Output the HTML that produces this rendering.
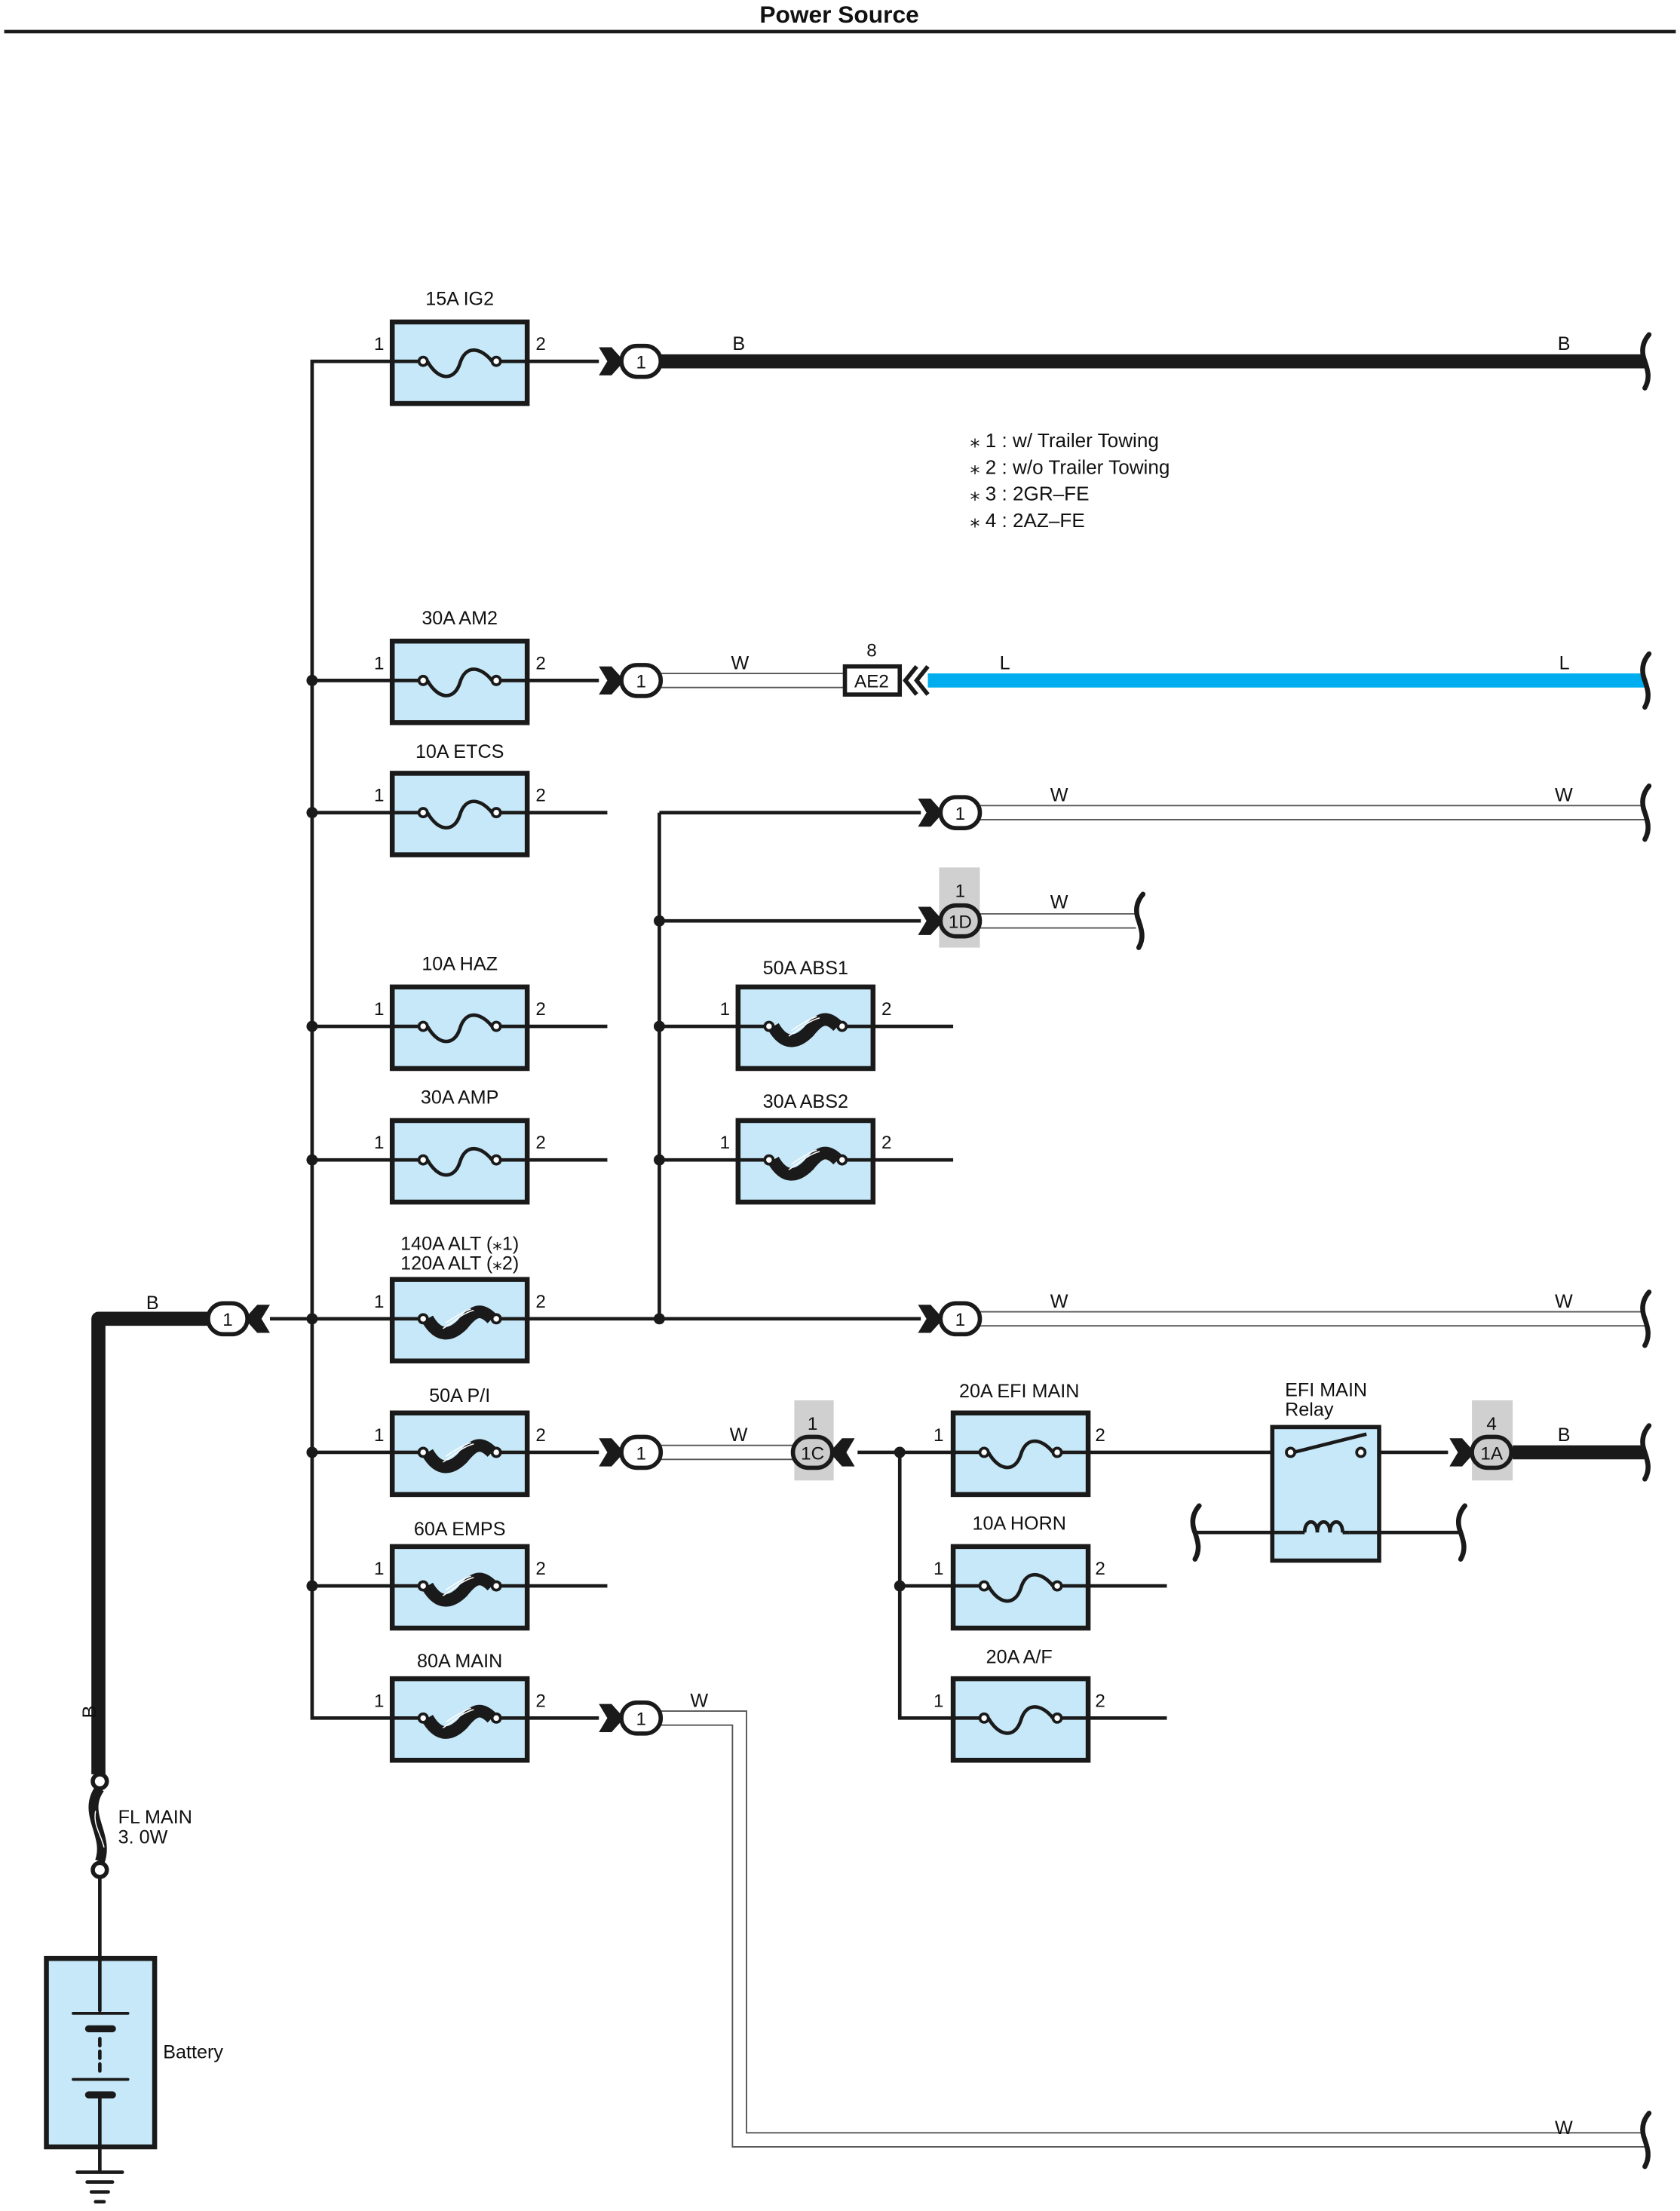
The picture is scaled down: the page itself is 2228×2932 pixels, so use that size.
<!DOCTYPE html>
<html><head><meta charset="utf-8"><style>
html,body{margin:0;padding:0;background:#fff}
svg{display:block}
text{font-family:"Liberation Sans",sans-serif;fill:#111}
</style></head><body>
<svg width="2228" height="2932" viewBox="0 0 1195 1572.6" preserveAspectRatio="none" xmlns="http://www.w3.org/2000/svg">
<defs>
<g id="fs">
<rect x="0" y="-28" width="96" height="58" fill="#c6e8f8" stroke="#1a1a1a" stroke-width="3.5"/>
<path d="M0 0H19M77 0H96" stroke="#1a1a1a" stroke-width="2.5"/>
<path d="M25 0C33 14 44 14 48 2C52 -12 63 -10 71 0" fill="none" stroke="#1a1a1a" stroke-width="2.5"/>
<circle cx="22" cy="0" r="3" fill="#fff" stroke="#1a1a1a" stroke-width="2"/>
<circle cx="74" cy="0" r="3" fill="#fff" stroke="#1a1a1a" stroke-width="2"/>
</g>
<g id="fl">
<rect x="0" y="-28" width="96" height="58" fill="#c6e8f8" stroke="#1a1a1a" stroke-width="3.5"/>
<path d="M0 0H19M77 0H96" stroke="#1a1a1a" stroke-width="2.5"/>
<path d="M25 0C33 14 42 12 50 4C58 -6 63 -8 71 0" fill="none" stroke="#1a1a1a" stroke-width="9"/>
<path d="M36 7C44 2 50 -4 58 -6M38 3C44 -1 50 -5 56 -7" fill="none" stroke="#fff" stroke-width="0.8"/>
<circle cx="22" cy="0" r="3" fill="#fff" stroke="#1a1a1a" stroke-width="2"/>
<circle cx="74" cy="0" r="3" fill="#fff" stroke="#1a1a1a" stroke-width="2"/>
</g>
<g id="cr">
<polygon points="-30,-10 -21,-10 -12,0 -21,10 -30,10 -24,0" fill="#1a1a1a"/>
<rect x="-14" y="-11" width="28" height="22" rx="11" fill="#fff" stroke="#1a1a1a" stroke-width="3"/>
</g>
<g id="crg">
<polygon points="-30,-10 -21,-10 -12,0 -21,10 -30,10 -24,0" fill="#1a1a1a"/>
<rect x="-14" y="-11" width="28" height="22" rx="11" fill="#ccc" stroke="#1a1a1a" stroke-width="3"/>
</g>
<path id="we" d="M2 -19C-4 -12 -3 -5 -1 0C1 6 3 12 -1 19" fill="none" stroke="#1a1a1a" stroke-width="3.5" stroke-linecap="round"/>
</defs>

<text x="597" y="16" font-size="17" font-weight="bold" text-anchor="middle">Power Source</text>
<line x1="3" y1="22.5" x2="1192" y2="22.5" stroke="#1a1a1a" stroke-width="2.5"/>

<g font-size="14">
<text x="690" y="318">⁎ 1 : w/ Trailer Towing</text>
<text x="690" y="337">⁎ 2 : w/o Trailer Towing</text>
<text x="690" y="356">⁎ 3 : 2GR–FE</text>
<text x="690" y="375">⁎ 4 : 2AZ–FE</text>
</g>

<g stroke="#1a1a1a" stroke-width="2.5" fill="none">
<path d="M279 257H222V1222H279"/>
<path d="M222 484H279M222 578H279M222 730H279M222 825H279M222 938H279M222 1033H279M222 1128H279"/>
<path d="M375 578H432M375 730H432M375 825H432M375 1128H432"/>
<path d="M375 257H426M375 484H426M375 1033H426M375 1222H426"/>
<path d="M192 938H279M375 938H655"/>
<path d="M469 578V938M469 578H655M469 655H655M469 730H525M621 730H678M469 825H525M621 825H678"/>
<path d="M610 1033H678M640 1033V1222H678M640 1128H678M773 1033H905M981 1033H1030M773 1128H830M773 1222H830"/>
<path d="M71 1336V1393M71 1527V1545"/>
</g>
<g fill="#1a1a1a">
<circle cx="222" cy="484" r="4"/><circle cx="222" cy="578" r="4"/><circle cx="222" cy="730" r="4"/><circle cx="222" cy="825" r="4"/><circle cx="222" cy="938" r="4"/><circle cx="222" cy="1033" r="4"/><circle cx="222" cy="1128" r="4"/>
<circle cx="469" cy="655" r="4"/><circle cx="469" cy="730" r="4"/><circle cx="469" cy="825" r="4"/><circle cx="469" cy="938" r="4"/>
<circle cx="640" cy="1033" r="4"/><circle cx="640" cy="1128" r="4"/>
</g>

<use href="#fs" x="279" y="257"/>
<use href="#fs" x="279" y="484"/>
<use href="#fs" x="279" y="578"/>
<use href="#fs" x="279" y="730"/>
<use href="#fs" x="279" y="825"/>
<use href="#fl" x="279" y="938"/>
<use href="#fl" x="279" y="1033"/>
<use href="#fl" x="279" y="1128"/>
<use href="#fl" x="279" y="1222"/>
<use href="#fl" x="525" y="730"/>
<use href="#fl" x="525" y="825"/>
<use href="#fs" x="678" y="1033"/>
<use href="#fs" x="678" y="1128"/>
<use href="#fs" x="678" y="1222"/>

<g font-size="13.5" text-anchor="middle">
<text x="327" y="217">15A IG2</text>
<text x="327" y="444">30A AM2</text>
<text x="327" y="539">10A ETCS</text>
<text x="327" y="690">10A HAZ</text>
<text x="327" y="785">30A AMP</text>
<text x="327" y="889">140A ALT (⁎1)</text>
<text x="327" y="903">120A ALT (⁎2)</text>
<text x="327" y="997">50A P/I</text>
<text x="327" y="1092">60A EMPS</text>
<text x="327" y="1186">80A MAIN</text>
<text x="573" y="693">50A ABS1</text>
<text x="573" y="788">30A ABS2</text>
<text x="725" y="994">20A EFI MAIN</text>
<text x="725" y="1088">10A HORN</text>
<text x="725" y="1183">20A A/F</text>
</g>
<g font-size="13">
<text x="266" y="249">1</text><text x="381" y="249">2</text>
<text x="266" y="476">1</text><text x="381" y="476">2</text>
<text x="266" y="570">1</text><text x="381" y="570">2</text>
<text x="266" y="722">1</text><text x="381" y="722">2</text>
<text x="266" y="817">1</text><text x="381" y="817">2</text>
<text x="266" y="930">1</text><text x="381" y="930">2</text>
<text x="266" y="1025">1</text><text x="381" y="1025">2</text>
<text x="266" y="1120">1</text><text x="381" y="1120">2</text>
<text x="266" y="1214">1</text><text x="381" y="1214">2</text>
<text x="512" y="722">1</text><text x="627" y="722">2</text>
<text x="512" y="817">1</text><text x="627" y="817">2</text>
<text x="664" y="1025">1</text><text x="779" y="1025">2</text>
<text x="664" y="1120">1</text><text x="779" y="1120">2</text>
<text x="664" y="1214">1</text><text x="779" y="1214">2</text>
</g>

<line x1="469" y1="257" x2="1170" y2="257" stroke="#1a1a1a" stroke-width="10"/>
<line x1="660" y1="484" x2="1170" y2="484" stroke="#00aeef" stroke-width="10"/>
<line x1="1075" y1="1033" x2="1170" y2="1033" stroke="#1a1a1a" stroke-width="10"/>
<path d="M160 938H70V1262" fill="none" stroke="#1a1a1a" stroke-width="10" stroke-linejoin="round"/>
<g fill="none" stroke="#555" stroke-width="1">
<path d="M469 479H600M469 489H600"/>
<path d="M697 573H1170M697 583H1170"/>
<path d="M697 650H808M697 660H808"/>
<path d="M697 933H1170M697 943H1170"/>
<path d="M469 1028H565M469 1038H565"/>
<path d="M469 1217H531V1517H1170M469 1227H521V1527H1170"/>
</g>
<use href="#we" x="1171" y="257"/>
<use href="#we" x="1171" y="484"/>
<use href="#we" x="1171" y="578"/>
<use href="#we" x="811" y="655"/>
<use href="#we" x="1171" y="938"/>
<use href="#we" x="1171" y="1033"/>
<use href="#we" x="1171" y="1522"/>

<g font-size="13.5">
<text x="521" y="249">B</text><text x="1108" y="249">B</text>
<text x="520" y="476">W</text>
<text x="711" y="476">L</text><text x="1109" y="476">L</text>
<text x="747" y="570">W</text><text x="1106" y="570">W</text>
<text x="747" y="646">W</text>
<text x="747" y="930">W</text><text x="1106" y="930">W</text>
<text x="519" y="1025">W</text>
<text x="1108" y="1025">B</text>
<text x="491" y="1214">W</text>
<text x="1106" y="1518">W</text>
<text x="104" y="931">B</text>
<text x="62" y="1228" transform="rotate(-90 62 1222)">B</text>
</g>

<use href="#cr" x="456" y="257"/>
<use href="#cr" x="456" y="484"/>
<use href="#cr" x="456" y="1033"/>
<use href="#cr" x="456" y="1222"/>
<use href="#cr" x="683" y="578"/>
<use href="#cr" x="683" y="938"/>
<rect x="668" y="617" width="29" height="57" fill="#d0d0d0"/>
<use href="#crg" x="683" y="655"/>
<g transform="translate(162 938) scale(-1 1)"><use href="#cr"/></g>
<rect x="565" y="996" width="28" height="57" fill="#d0d0d0"/>
<g transform="translate(578 1033) scale(-1 1)"><use href="#crg"/></g>
<rect x="1047" y="996" width="29" height="57" fill="#d0d0d0"/>
<use href="#crg" x="1061" y="1033"/>
<g font-size="13" text-anchor="middle">
<text x="456" y="262">1</text><text x="456" y="489">1</text><text x="456" y="1038">1</text><text x="456" y="1227">1</text>
<text x="683" y="583">1</text><text x="683" y="943">1</text><text x="162" y="943">1</text>
<text x="683" y="660">1D</text><text x="683" y="638">1</text>
<text x="578" y="1038">1C</text><text x="578" y="1017">1</text>
<text x="1061" y="1038">1A</text><text x="1061" y="1017">4</text>
</g>

<rect x="601" y="474" width="39" height="20" fill="#fff" stroke="#1a1a1a" stroke-width="3"/>
<text x="620" y="489" font-size="13" text-anchor="middle">AE2</text>
<text x="620" y="467" font-size="13" text-anchor="middle">8</text>
<path d="M652 474L644 484L652 494M660 474L652 484L660 494" fill="none" stroke="#1a1a1a" stroke-width="3"/>

<rect x="905" y="1015" width="76" height="95" fill="#c6e8f8" stroke="#1a1a1a" stroke-width="3"/>
<path d="M920 1033L972 1020" stroke="#1a1a1a" stroke-width="2.5"/>
<circle cx="918" cy="1033" r="3" fill="#fff" stroke="#1a1a1a" stroke-width="2"/>
<circle cx="968" cy="1033" r="3" fill="#fff" stroke="#1a1a1a" stroke-width="2"/>
<path d="M850 1090H928M960 1090H1038M928 1090c0 -10 9 -10 9 0c0 -10 9 -10 9 0c0 -10 9 -10 9 0v0" fill="none" stroke="#1a1a1a" stroke-width="2.5"/>
<path d="M955 1090H960" stroke="#1a1a1a" stroke-width="2.5"/>
<use href="#we" x="851" y="1090"/>
<use href="#we" x="1040" y="1090"/>
<text x="914" y="993" font-size="13.5">EFI MAIN</text>
<text x="914" y="1007" font-size="13.5">Relay</text>

<circle cx="71" cy="1267" r="5" fill="#fff" stroke="#1a1a1a" stroke-width="3"/>
<path d="M71 1272C58 1290 78 1305 71 1324" fill="none" stroke="#1a1a1a" stroke-width="7"/>
<path d="M68 1288C66 1298 72 1305 74 1314" fill="none" stroke="#fff" stroke-width="0.8"/>
<circle cx="71" cy="1330" r="5" fill="#fff" stroke="#1a1a1a" stroke-width="3"/>
<text x="84" y="1297" font-size="13.5">FL MAIN</text>
<text x="84" y="1311" font-size="13.5">3. 0W</text>
<rect x="33" y="1393" width="77" height="134" fill="#c6e8f8" stroke="#1a1a1a" stroke-width="3.5"/>
<g stroke="#1a1a1a" stroke-linecap="round">
<path d="M71 1393V1430M71 1490V1527" stroke-width="2.5"/>
<path d="M52 1432H91M52 1479H91" stroke-width="2"/>
<path d="M63 1443H80M63 1490H80" stroke-width="5"/>
<path d="M71 1450V1473" stroke-width="2.5" stroke-dasharray="5 4"/>
<path d="M55 1545H87M62 1552H80M65 1559H77M68 1566H74" stroke-width="2.5"/>
</g>
<text x="116" y="1464" font-size="13.5">Battery</text>
</svg>
</body></html>
